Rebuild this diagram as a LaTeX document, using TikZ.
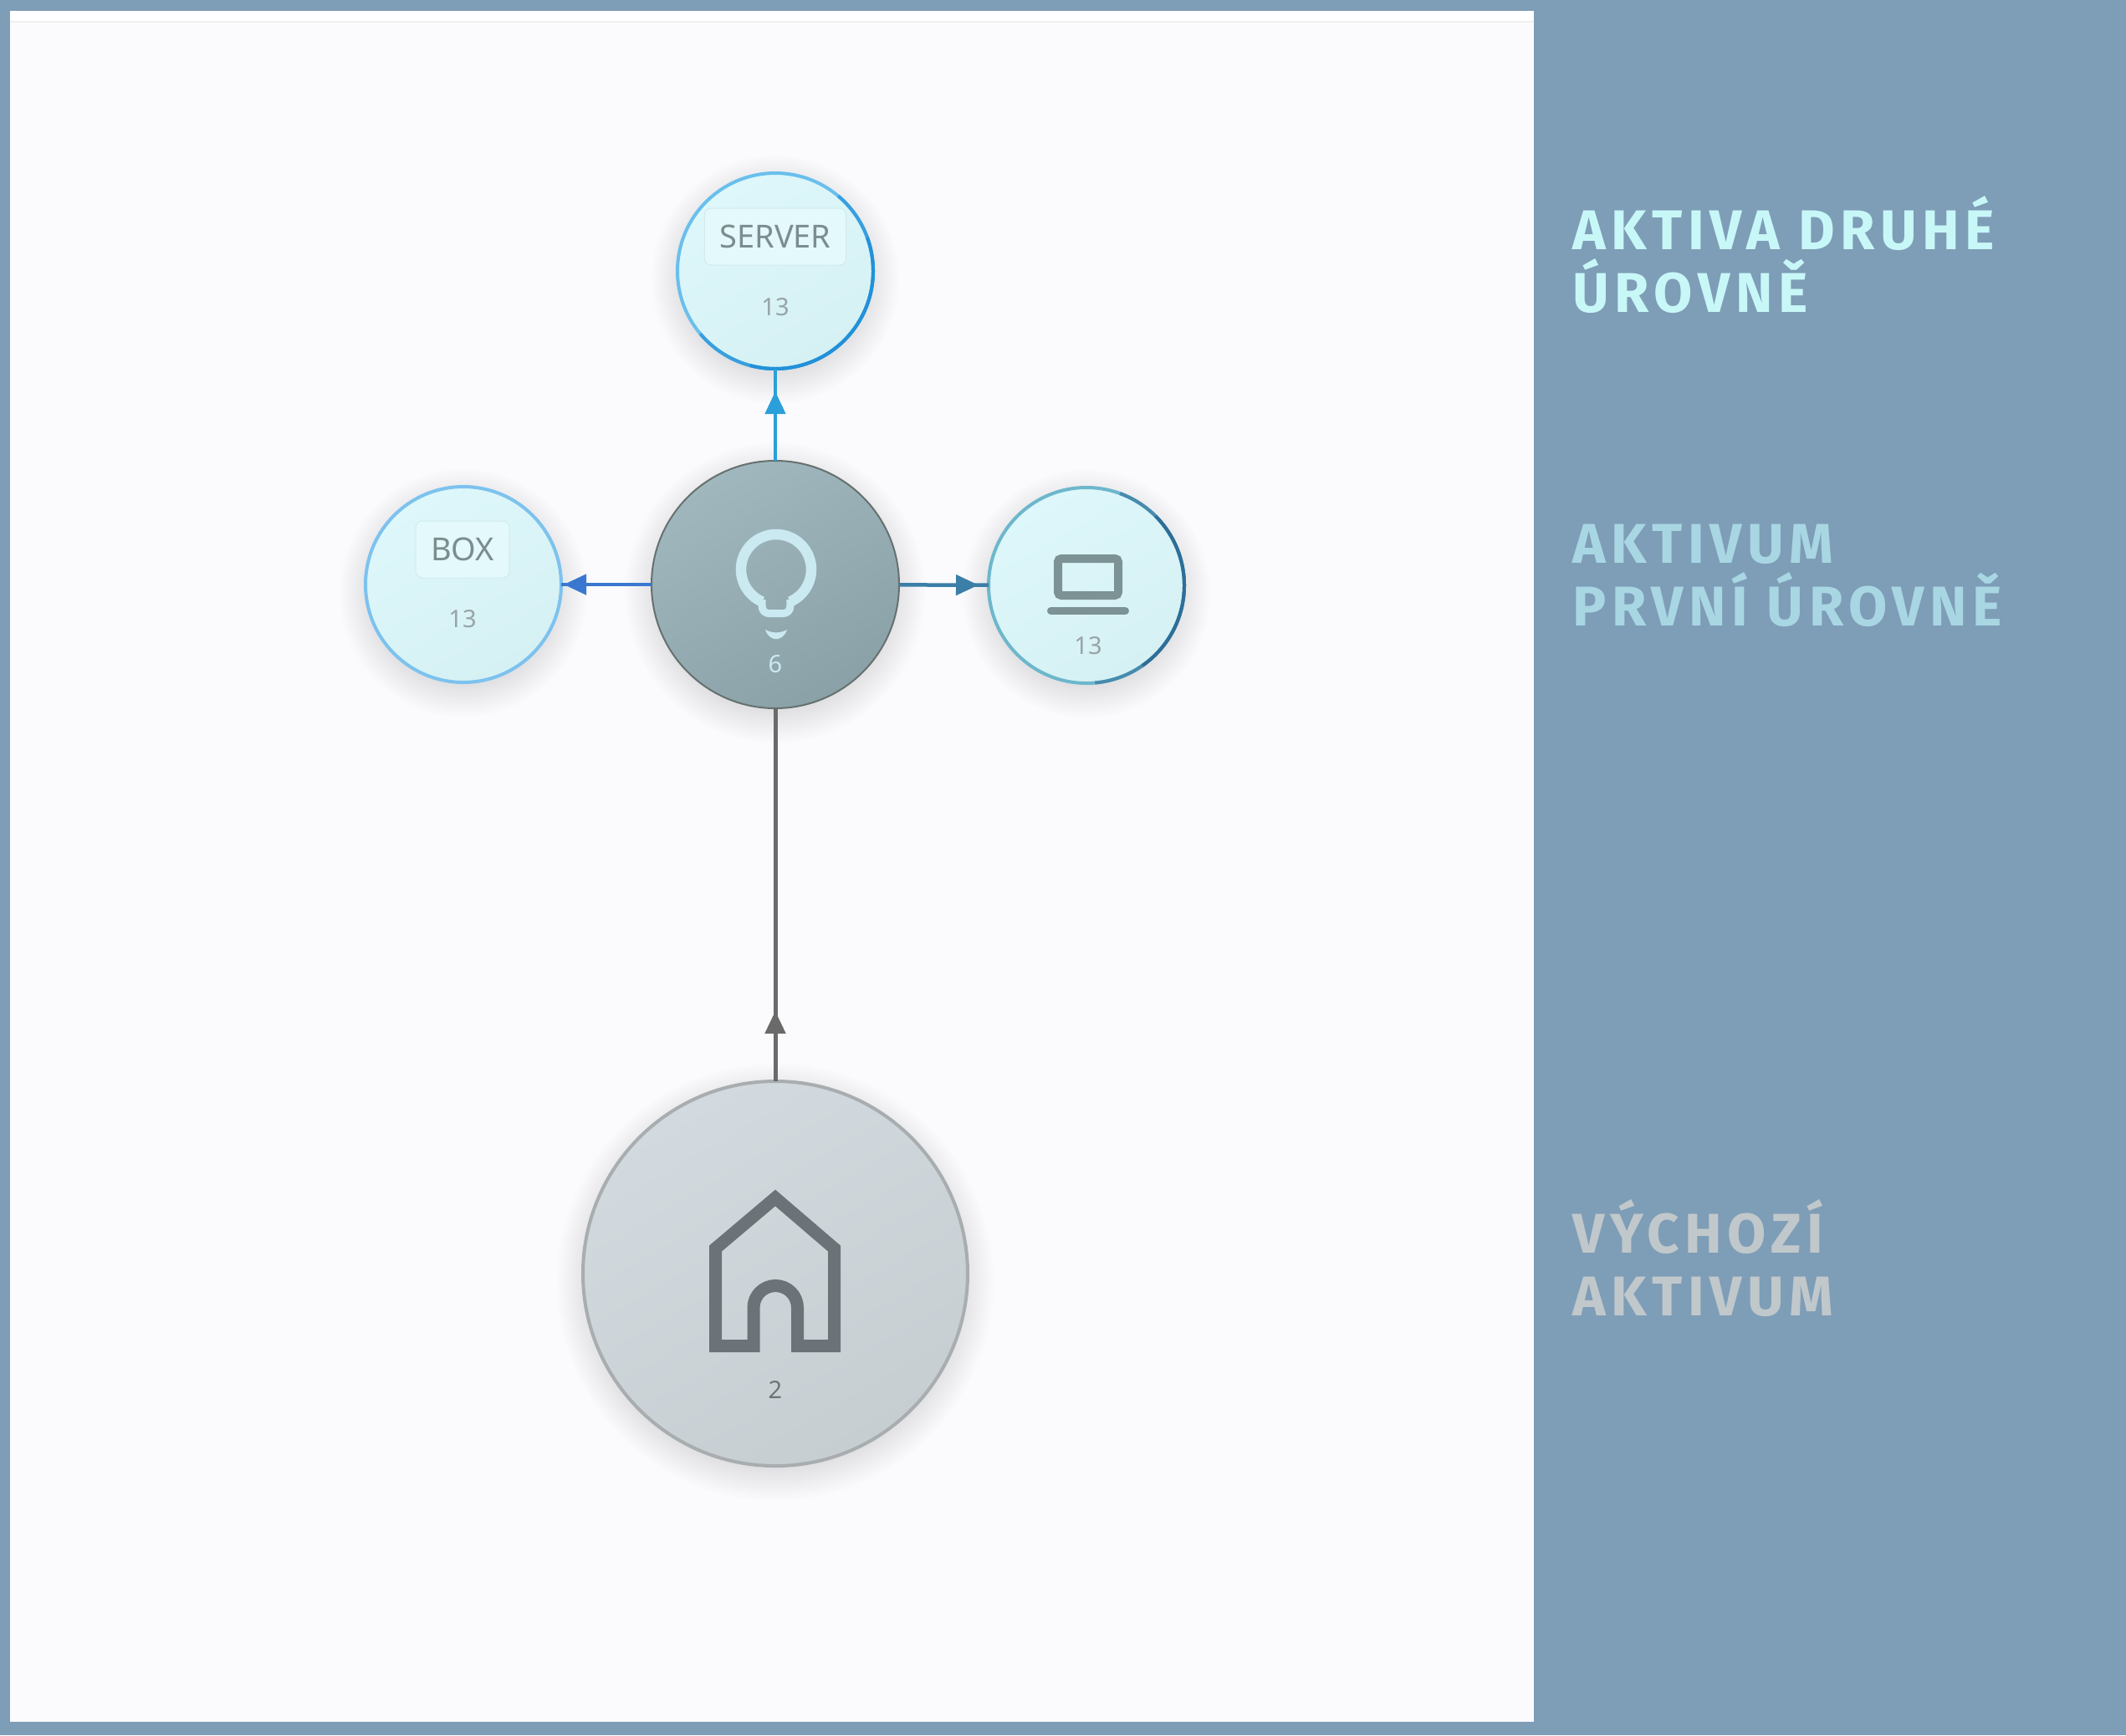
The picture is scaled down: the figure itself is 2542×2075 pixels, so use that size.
\documentclass[tikz,border=0pt]{standalone}
\usepackage{fontspec}
\setmainfont{Noto Sans}
\newfontfamily\sidefont[LetterSpace=10]{Fira Sans}
\usetikzlibrary{arrows.meta,decorations.markings}
\definecolor{frame}{HTML}{7E9DB7}
\definecolor{panel}{HTML}{FBFBFD}
\definecolor{lvtwofill}{HTML}{DDF7FA}
\definecolor{lvtwofilltwo}{HTML}{D6F1F4}
\definecolor{lblfill}{HTML}{E4F9FB}
\definecolor{lbledge}{HTML}{D2EAED}
\definecolor{serverborder}{HTML}{6ABFEC}
\definecolor{serverdark}{HTML}{2291D9}
\definecolor{boxborder}{HTML}{7DC2EE}
\definecolor{laptopborder}{HTML}{6DB7CC}
\definecolor{laptopdark}{HTML}{2E6E98}
\definecolor{bulbtop}{HTML}{A0B7BE}
\definecolor{bulbbot}{HTML}{8AA1A8}
\definecolor{bulbedge}{HTML}{66716F}
\definecolor{bulbicon}{HTML}{CBE9F1}
\definecolor{housetop}{HTML}{D2DADF}
\definecolor{housebot}{HTML}{C7CED2}
\definecolor{houseborder}{HTML}{A8ADAF}
\definecolor{houseicon}{HTML}{6B7378}
\definecolor{lbl}{HTML}{7B8D8F}
\definecolor{lapicon}{HTML}{7D9294}
\definecolor{num}{HTML}{97A4A6}
\definecolor{arrowup}{HTML}{2B9FDA}
\definecolor{arrowright}{HTML}{3B7FA9}
\definecolor{arrowleft}{HTML}{3A78CF}
\definecolor{arrowgray}{HTML}{6A6A6A}
\definecolor{txtone}{HTML}{C8F7F8}
\definecolor{txttwo}{HTML}{A9D6E3}
\definecolor{txtthree}{HTML}{C0C8CB}
\newcommand\nodeshadow[3]{%
  \foreach \i in {0,...,13}{\fill[black,opacity=0.008] ({#1},{#2+10}) circle ({#3-8+\i*3});}}
\tikzset{
  lvtwo/.style={circle, minimum size=234pt, inner sep=0pt, outer sep=0pt, line width=4pt, top color=lvtwofill, bottom color=lvtwofilltwo, shading angle=30},
  bulbnode/.style={circle, minimum size=296pt, inner sep=0pt, outer sep=0pt, line width=2pt, draw=bulbedge, top color=bulbtop, bottom color=bulbbot, shading angle=30},
  housenode/.style={circle, minimum size=460pt, inner sep=0pt, outer sep=0pt, line width=4pt, draw=houseborder, top color=housetop, bottom color=housebot, shading angle=30},
  lblbox/.style={rounded corners=8pt, fill=lblfill, draw=lbledge, line width=1pt, inner xsep=18pt, inner ysep=0pt, minimum height=68pt, text=lbl, font=\fontsize{38}{40}\selectfont},
  numtxt/.style={inner sep=0pt, text=num, font=\fontsize{29}{31}\selectfont},
  conn/.style={line width=4.5pt},
  markarrow/.style={postaction={decorate, decoration={markings, mark=at position #1 with {\arrow{Triangle[length=27pt,width=24pt]}}}}},
  sidetxt/.style={anchor=base west, inner sep=0pt, font=\sidefont\bfseries\fontsize{67}{75}\selectfont}
}
\begin{document}
\begin{tikzpicture}[x=1pt,y=-1pt]
\fill[frame] (0,0) rectangle (2542,2075);
\fill[panel] (12,13) rectangle (1834,2059);
\fill[white] (12,13) rectangle (1834,25);
\fill[black!6] (12,25) rectangle (1834,27);
\useasboundingbox (0,0) rectangle (2542,2075);

% soft shadows
\nodeshadow{927}{324}{117}
\nodeshadow{554}{699}{117}
\nodeshadow{1299}{700}{117}
\nodeshadow{927}{699}{148}
\nodeshadow{927}{1523}{230}

% nodes
\node[lvtwo, draw=serverborder] (server) at (927,324) {};
\node[lvtwo, draw=boxborder] (box) at (554,699) {};
\node[lvtwo, draw=laptopborder] (laptop) at (1299,700) {};
\node[bulbnode] (bulb) at (927,699) {};
\node[housenode] (house) at (927,1523) {};

% darker border parts
\begin{scope}[shift={(server.center)}, y=1pt]
  \draw[serverdark!70!serverborder, line width=4pt] (50:117) arc[start angle=50, end angle=-140, radius=117];
  \draw[serverdark, line width=4pt] (20:117) arc[start angle=20, end angle=-105, radius=117];
\end{scope}
\begin{scope}[shift={(laptop.center)}, y=1pt]
  \draw[laptopdark!60!laptopborder, line width=4pt] (70:117) arc[start angle=70, end angle=-85, radius=117];
  \draw[laptopdark, line width=4pt] (45:117) arc[start angle=45, end angle=-55, radius=117];
\end{scope}

% labels
\node[lblbox] (serverlbl) at (927,283) {SERVER};
\node[numtxt] (servernum) at (927,367) {13};
\node[lblbox] (boxlbl) at (553,657) {BOX};
\node[numtxt] (boxnum) at (553,740) {13};
\node[numtxt] (laptopnum) at (1301,772) {13};
\node[numtxt, text=bulbicon] (bulbnum) at (927,794) {6};
\node[numtxt, text=houseicon] (housenum) at (927,1662) {2};

% laptop icon
\draw[lapicon, line width=10pt, rounded corners=4pt] (1265,668) rectangle (1337,712);
\draw[lapicon, line width=9pt, line cap=round] (1256.5,730.5) -- (1345.5,730.5);

% bulb icon
\begin{scope}[shift={(928,681)}, y=1pt]
  \draw[bulbicon, line width=12.5pt] (-66.4:42) arc[start angle=-66.4, end angle=246.4, radius=42];
  \draw[bulbicon, line width=9pt]
    (-16.8,-36) -- (-16.8,-44.5) arc[start angle=180, end angle=270, radius=8]
    -- (8.8,-52.5) arc[start angle=270, end angle=360, radius=8] -- (16.8,-36);
  \fill[bulbicon] (-13,-72) .. controls (-5,-76.5) and (5,-76.5) .. (13,-72)
    .. controls (8,-87) and (-8,-87) .. cycle;
\end{scope}

% house icon
\draw[houseicon, line width=15pt]
  (901,1609.5) -- (901,1563.75) arc[start angle=180, end angle=360, radius=26.25]
  -- (953.5,1609.5) -- (997.5,1609.5) -- (997.5,1493) -- (927,1432.5)
  -- (855.5,1493) -- (855.5,1609.5) -- cycle;

% connectors
\draw[conn, arrowup, markarrow={-27pt}] (bulb) -- (server);
\draw[conn, arrowright, markarrow={-12pt}] (bulb) -- (laptop);
\draw[conn, arrowleft, markarrow={-3pt}] (bulb) -- (box);
\draw[conn, line width=5pt, arrowgray, markarrow={84pt}] (house) -- (bulb);

% side texts
\node[sidetxt, text=txtone] (lvtwoa) at (1880,298) {AKTIVA DRUHÉ};
\node[sidetxt, text=txtone] (lvtwob) at (1880,373) {ÚROVNĚ};
\node[sidetxt, text=txttwo] (lvonea) at (1880,673) {AKTIVUM};
\node[sidetxt, text=txttwo] (lvoneb) at (1880,748) {PRVNÍ ÚROVNĚ};
\node[sidetxt, text=txtthree] (basea) at (1880,1498) {VÝCHOZÍ};
\node[sidetxt, text=txtthree] (baseb) at (1880,1573) {AKTIVUM};
\end{tikzpicture}
\end{document}
